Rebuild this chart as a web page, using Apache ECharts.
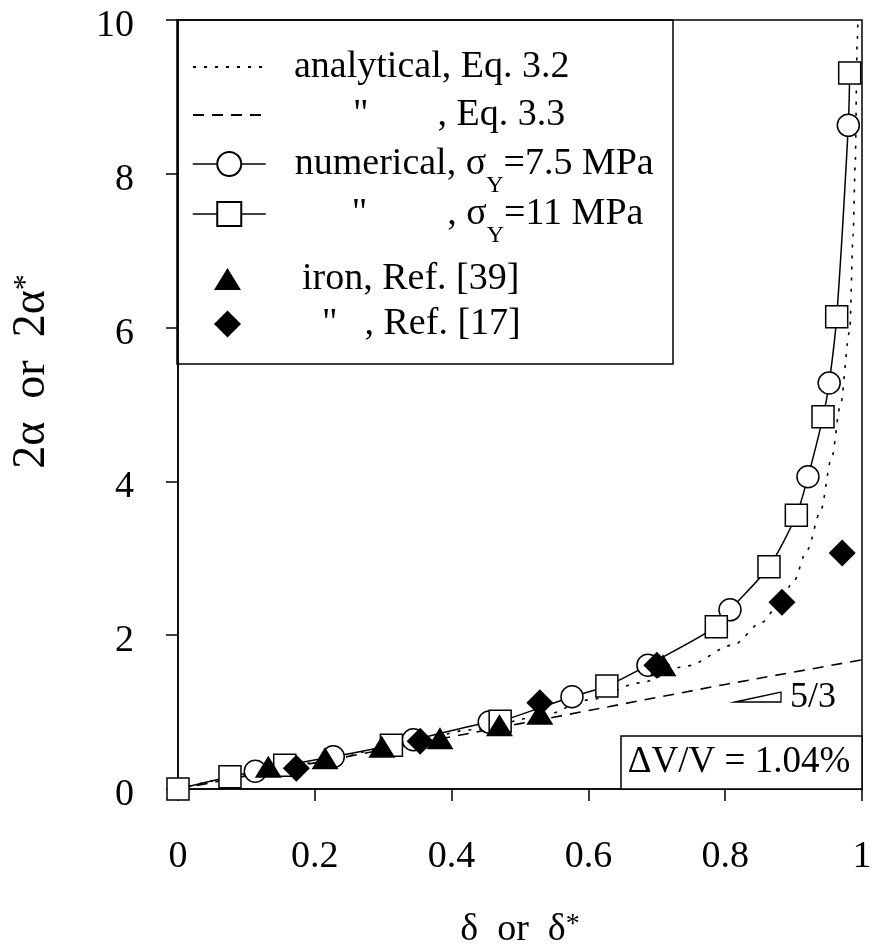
<!DOCTYPE html>
<html><head><meta charset="utf-8">
<script src="https://cdn.jsdelivr.net/npm/echarts@6/dist/echarts.min.js"></script>
<style>html,body{margin:0;padding:0;background:#fff}#c{width:874px;height:945px}</style>
</head><body><div id="c"></div>
<script>
const F = 'Liberation Serif';
const xTicks = [0, 0.2, 0.4, 0.6, 0.8, 1];
const yTicks = [0, 2, 4, 6, 8, 10];
// numerical, sigma_Y = 7.5 MPa (circles)
const numericalLow = [[0.113,0.23],[0.227,0.42],[0.344,0.64],[0.455,0.87],[0.576,1.20],[0.687,1.61],[0.807,2.33],[0.921,4.06],[0.952,5.28],[0.980,8.63]];
// numerical, sigma_Y = 11 MPa (squares)
const numericalHigh = [[0,0],[0.076,0.16],[0.156,0.31],[0.312,0.57],[0.471,0.88],[0.627,1.34],[0.787,2.11],[0.864,2.89],[0.904,3.56],[0.943,4.84],[0.963,6.14],[0.982,9.31]];
// iron, Ref. [39] (triangles)
const ironRef39 = [[0.132,0.29],[0.215,0.40],[0.298,0.55],[0.383,0.66],[0.470,0.83],[0.529,0.98],[0.709,1.61]];
// iron, Ref. [17] (diamonds)
const ironRef17 = [[0.173,0.27],[0.354,0.62],[0.529,1.12],[0.700,1.61],[0.883,2.43],[0.971,3.07]];
// analytical, Eq. 3.2 (dotted)
const analytical32 = [[0,0],[0.1,0.17],[0.2,0.34],[0.3,0.52],[0.431,0.77],[0.529,0.94],[0.602,1.16],[0.675,1.38],[0.744,1.6],[0.811,1.87],[0.854,2.17],[0.876,2.37],[0.899,2.68],[0.92,3.11],[0.939,3.6],[0.956,4.32],[0.968,4.97],[0.982,5.95],[0.987,7.2],[0.99,8.1],[0.993,9.7],[0.994,10]];
// analytical, Eq. 3.3 (dashed)
const analytical33 = [[0,0],[0.1,0.17],[0.2,0.34],[0.3,0.51],[0.4,0.68],[0.5,0.85],[0.6,1.02],[0.7,1.19],[0.8,1.36],[0.9,1.52],[1,1.68]];

const solidCurve = numericalHigh.concat(numericalLow).sort((a, b) => a[0] - b[0]);

const chart = echarts.init(document.getElementById('c'), null, {renderer: 'canvas'});

const tokenBase = {fontFamily: F, fontSize: 38, lineHeight: 40, color: '#000'};
const rich = {
  a: Object.assign({}, tokenBase),
  p1: Object.assign({}, tokenBase, {padding: [0, 0, 0, 24]}),
  p2: Object.assign({}, tokenBase, {padding: [0, 69, 0, 81]}),
  p2b: Object.assign({}, tokenBase, {padding: [0, 80, 0, 81]}),
  p5: Object.assign({}, tokenBase, {padding: [0, 0, 0, 56]}),
  p6: Object.assign({}, tokenBase, {padding: [0, 27, 0, 76]}),
  s: {fontFamily: F, fontSize: 24, lineHeight: 24, color: '#000', padding: [44, 0, 0, 0]}
};
function mkLegend(name, left, top, w, h, fmt, extra) {
  return Object.assign({
    data: [name], left: left, top: top, itemWidth: w, itemHeight: h,
    padding: 0, selectedMode: false, itemGap: 0,
    formatter: fmt,
    textStyle: {fontFamily: F, fontSize: 38, lineHeight: 40, color: '#000', rich: rich}
  }, extra || {});
}

const option = {
  animation: false,
  backgroundColor: '#fff',
  grid: {left: 178, right: 12, top: 20, bottom: 156, containLabel: false, outerBoundsMode: 'none',
         show: true, borderColor: '#000', borderWidth: 1.5, backgroundColor: 'transparent'},
  xAxis: {
    type: 'value', min: xTicks[0], max: xTicks[xTicks.length - 1], interval: 0.2,
    axisLine: {lineStyle: {color: '#000', width: 1.5}},
    axisTick: {show: true, inside: false, length: 12, lineStyle: {color: '#000', width: 1.5}},
    splitLine: {show: false},
    axisLabel: {fontFamily: F, fontSize: 38, color: '#000', margin: 49},
    name: '{a|δ  or  δ}{s|*}', nameLocation: 'middle', nameGap: 121,
    nameTextStyle: {fontFamily: F, fontSize: 38, color: '#000', rich: {
      a: {fontFamily: F, fontSize: 38, lineHeight: 40, color: '#000'},
      s: {fontFamily: F, fontSize: 28, lineHeight: 28, color: '#000', padding: [0, 0, 10, 0]}
    }}
  },
  yAxis: {
    type: 'value', min: yTicks[0], max: yTicks[yTicks.length - 1], interval: 2,
    axisLine: {lineStyle: {color: '#000', width: 1.5}},
    axisTick: {show: true, inside: false, length: 12, lineStyle: {color: '#000', width: 1.5}},
    splitLine: {show: false},
    axisLabel: {margin: 44, formatter: v => '{d|' + v + '}',
      rich: {d: {fontFamily: F, fontSize: 38, lineHeight: 38, color: '#000', padding: [12, 0, 0, 0]}}},
    name: '{a|2α  or  2α}{s|*}', nameLocation: 'middle', nameGap: 123, nameRotate: 90,
    nameTextStyle: {fontFamily: F, fontSize: 46, color: '#000', padding: [0, 0, 0, 66], rich: {
      a: {fontFamily: F, fontSize: 46, lineHeight: 46, color: '#000'},
      s: {fontFamily: F, fontSize: 32, lineHeight: 32, color: '#000', padding: [0, 0, 10, 0]}
    }}
  },
  legend: [
    mkLegend('analytical, Eq. 3.2', 192, 47, 72, 30, '{p1|analytical, Eq. 3.2}', {itemStyle: {opacity: 0}}),
    mkLegend('Eq. 3.3', 192, 95, 74, 30, '{p2|"}{a|, Eq. 3.3}', {itemStyle: {opacity: 0}}),
    mkLegend('numerical, σY=7.5 MPa', 192, 130, 73, 30, '{p1|numerical, σ}{s|Y}{a|=7.5 MPa}', {lineStyle: {color: '#000', width: 1.5, opacity: 1, type: 'solid'}}),
    mkLegend('numerical, σY=11 MPa', 192, 180, 73, 30, '{p2b|"}{a|, σ}{s|Y}{a|=11 MPa}', {lineStyle: {color: '#000', width: 1.5, opacity: 1, type: 'solid'}}),
    mkLegend('iron, Ref. [39]', 214, 259, 27, 22, '{p5|iron, Ref. [39]}'),
    mkLegend('iron, Ref. [17]', 214, 304, 27, 27, '{p6|"}{a|, Ref. [17]}')
  ],
  series: [
    {name: 'analytical, Eq. 3.2', type: 'line', data: analytical32, symbol: 'none', smooth: 0.3, smoothMonotone: 'x',
     lineStyle: {color: '#000', width: 1.6, type: [3, 8]}, itemStyle: {color: '#000'}, z: 2},
    {name: 'Eq. 3.3', type: 'line', data: analytical33, symbol: 'none', smooth: false,
     lineStyle: {color: '#000', width: 1.6, type: [11, 8]}, itemStyle: {color: '#000'}, z: 2},
    {name: 'numerical curve', type: 'line', data: solidCurve, symbol: 'none', smooth: 0.25,
     lineStyle: {color: '#000', width: 1.5}, z: 3},
    {name: 'numerical, σY=7.5 MPa', type: 'line', data: numericalLow, symbol: 'circle', symbolSize: 22, showSymbol: true,
     lineStyle: {width: 0, opacity: 0}, itemStyle: {color: '#fff', borderColor: '#000', borderWidth: 1.5}, z: 4},
    {name: 'numerical, σY=11 MPa', type: 'line', data: numericalHigh, symbol: 'rect', symbolSize: 22, showSymbol: true,
     lineStyle: {width: 0, opacity: 0}, itemStyle: {color: '#fff', borderColor: '#000', borderWidth: 1.5}, z: 4},
    {name: 'iron, Ref. [39]', type: 'scatter', data: ironRef39, symbol: 'triangle', symbolSize: [27, 22],
     itemStyle: {color: '#000', opacity: 1}, z: 5},
    {name: 'iron, Ref. [17]', type: 'scatter', data: ironRef17, symbol: 'diamond', symbolSize: [27, 27],
     itemStyle: {color: '#000', opacity: 1}, z: 6}
  ],
  graphic: [
    {type: 'rect', shape: {x: 177, y: 20, width: 496, height: 344}, style: {fill: 'none', stroke: '#000', lineWidth: 1.5}, z: 10},
    {type: 'rect', shape: {x: 621, y: 736, width: 241, height: 53}, style: {fill: '#fff', stroke: '#000', lineWidth: 1.5}, z: 10},
    {type: 'text', x: 739, y: 762, style: {text: 'ΔV/V = 1.04%', font: '37px "Liberation Serif"', fill: '#000', align: 'center', verticalAlign: 'middle'}, z: 11},
    {type: 'polygon', shape: {points: [[735, 702], [781, 692], [781, 702]]}, style: {fill: '#fff', stroke: '#000', lineWidth: 1.3}, z: 10},
    {type: 'text', x: 790, y: 698, style: {text: '5/3', font: '36px "Liberation Serif"', fill: '#000', align: 'left', verticalAlign: 'middle'}, z: 11}
  ]
};
chart.setOption(option);
</script>
</body></html>
